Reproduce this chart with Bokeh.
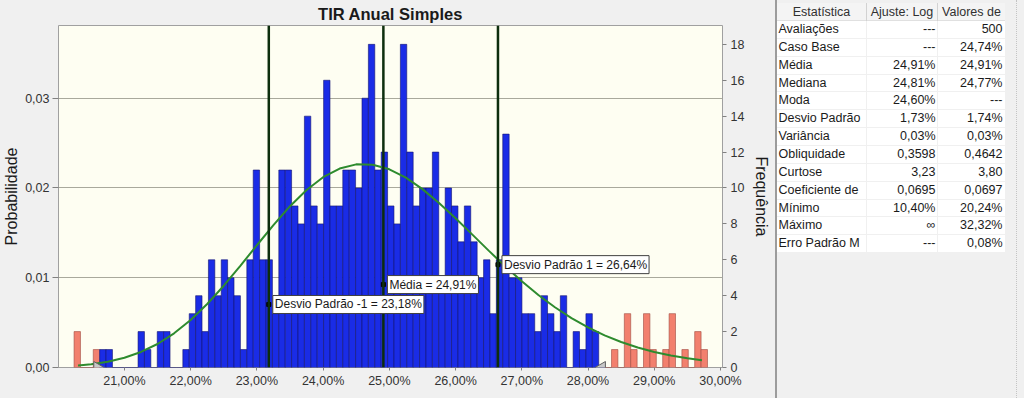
import math
from bokeh.plotting import figure
from bokeh.models import (Range1d, LinearAxis, FixedTicker, SingleIntervalTicker,
                          CustomJSTickFormatter, Span, Label, ColumnDataSource, Div)
from bokeh.layouts import row
from bokeh.embed import file_html
from bokeh.resources import INLINE

# ---------------- data ----------------
title_text = "TIR Anual Simples"
bin_start = 20.24          # % (first bin left edge = minimum)
bin_width = 0.0966         # %
counts = [2, 0, 0, 1, 1, 1, 0, 0, 0, 0,
          2, 1, 0, 2, 2, 0, 0, 1, 3, 4,
          2, 6, 4, 6, 5, 4, 1, 6, 11, 6,
          6, 3, 11, 11, 9, 8, 14, 9, 8, 16,
          9, 9, 11, 11, 10, 15, 18, 11, 12, 9,
          8, 18, 12, 9, 10, 10, 12, 5, 10, 9,
          7, 9, 7, 5, 6, 3, 6, 13, 5, 5,
          3, 3, 2, 4, 3, 2, 4, 0, 2, 1,
          3, 2, 0, 0, 1, 0, 3, 1, 0, 3,
          1, 0, 1, 3, 0, 1, 0, 2, 1]
left_delimiter = 20.59
right_delimiter = 28.21
n_evaluations = 500
stat_lines = [23.18, 24.91, 26.64]
stat_labels = ["Desvio Padrão -1 = 23,18%", "Média = 24,91%", "Desvio Padrão 1 = 26,64%"]

fit_x = [20.3, 20.5, 20.75, 21.0, 21.25, 21.5, 21.75, 22.0, 22.25, 22.5, 22.75,
         23.0, 23.25, 23.5, 23.75, 24.0, 24.25, 24.5, 24.75, 25.0, 25.25, 25.5,
         25.75, 26.0, 26.25, 26.5, 26.75, 27.0, 27.25, 27.5, 27.75, 28.0, 28.25,
         28.5, 28.75, 29.0, 29.25, 29.5, 29.72]
fit_prob = [0.00022, 0.00037, 0.00065, 0.00109, 0.00173, 0.00262, 0.00381, 0.00529,
            0.00707, 0.00911, 0.01132, 0.01362, 0.01587, 0.01797, 0.01978, 0.02120,
            0.02216, 0.02263, 0.02259, 0.02208, 0.02115, 0.01987, 0.01833, 0.01662,
            0.01483, 0.01302, 0.01126, 0.00960, 0.00808, 0.00671, 0.00550, 0.00446,
            0.00358, 0.00284, 0.00223, 0.00173, 0.00133, 0.00102, 0.00080]

x_ticks = [21, 22, 23, 24, 25, 26, 27, 28, 29, 30]
prob_ticks = [0.0, 0.01, 0.02, 0.03]
freq_tick_interval = 2

table_headers = ["Estatística", "Ajuste: Log", "Valores de"]
stat_names = ["Avaliações", "Caso Base", "Média", "Mediana", "Moda", "Desvio Padrão",
              "Variância", "Obliquidade", "Curtose", "Coeficiente de", "Mínimo",
              "Máximo", "Erro Padrão M"]
fit_values = ["---", "---", "24,91%", "24,81%", "24,60%", "1,73%", "0,03%", "0,3598",
              "3,23", "0,0695", "10,40%", "∞", "---"]
sim_values = ["500", "24,74%", "24,91%", "24,77%", "---", "1,74%", "0,03%", "0,4642",
              "3,80", "0,0697", "20,24%", "32,32%", "0,08%"]

# ---------------- styles / layout ----------------
FONT = "Liberation Sans"
BG = "#f0f0f0"
PLOT_BG = "#fefef2"
BLUE = "#1a2ce6"
RED = "#f2806e"
prob_top = 0.0381
label_y = [3.51, 4.62, 5.73]  # label anchor heights (frequency units)
W_PLOT, H = 773, 398
W_TABLE = 251

# ---------------- histogram figure ----------------
p = figure(width=W_PLOT, height=H, x_range=Range1d(20.005, 30.03),
           y_range=Range1d(0, prob_top), output_backend="svg", toolbar_location=None,
           min_border_left=56, min_border_right=47, min_border_bottom=31, min_border_top=24)
p.extra_y_ranges = {"freq": Range1d(0, prob_top * n_evaluations)}
p.background_fill_color = PLOT_BG
p.border_fill_color = BG
p.outline_line_color = "#a0a0a0"

p.title.text = title_text
p.title.align = "center"
p.title.text_font = FONT
p.title.text_font_size = "16.5px"
p.title.text_font_style = "bold"
p.title.text_color = "#1a1a1a"
p.title.standoff = 5
p.title.offset = 0

lefts = [bin_start + i * bin_width for i in range(len(counts))]
rights = [l + bin_width for l in lefts]
centers = [l + bin_width / 2 for l in lefts]
inside = [left_delimiter <= c <= right_delimiter for c in centers]
src = ColumnDataSource(dict(
    left=lefts, right=rights, top=counts,
    fill=[BLUE if ok else RED for ok in inside],
    line=["#14146e" if ok else "#a04a40" for ok in inside]))
p.quad(left="left", right="right", top="top", bottom=0, source=src,
       fill_color="fill", line_color="line", line_width=0.6, y_range_name="freq")

p.line(fit_x, fit_prob, line_color="#2e8b2e", line_width=2)

for loc in stat_lines:
    p.add_layout(Span(location=loc, dimension="height", line_color="#0d2e0d", line_width=2.5))

p.scatter(stat_lines, label_y, marker="square", size=4, color="black", y_range_name="freq")
for loc, ly, txt in zip(stat_lines, label_y, stat_labels):
    p.add_layout(Label(x=loc, y=ly, y_range_name="freq", text=txt, x_offset=4,
                       text_baseline="middle", text_font=FONT, text_font_size="12px",
                       text_color="#1a1a1a", background_fill_color="white",
                       border_line_color="#404040", border_line_width=1, padding=2))

p.scatter([left_delimiter, right_delimiter], [0, 0], marker="triangle",
          angle=[-math.pi / 2, math.pi / 2], size=12, fill_color="#c8c8c8",
          line_color="#606060", y_range_name="freq")

# axes
p.xgrid.visible = False
p.ygrid.grid_line_color = "#a9a99c"
p.ygrid.ticker = FixedTicker(ticks=prob_ticks)

xa = p.xaxis[0]
xa.ticker = FixedTicker(ticks=x_ticks)
xa.formatter = CustomJSTickFormatter(code="return tick.toFixed(2).replace('.', ',') + '%';")
ya = p.yaxis[0]
ya.ticker = FixedTicker(ticks=prob_ticks)
ya.formatter = CustomJSTickFormatter(code="return tick.toFixed(2).replace('.', ',');")
ya.axis_label = "Probabilidade"
ya.major_tick_out = 6
ya.major_label_standoff = 3
ya.axis_label_standoff = 2

ra = LinearAxis(y_range_name="freq", axis_label="Frequência",
                ticker=SingleIntervalTicker(interval=freq_tick_interval, num_minor_ticks=0))
ra.major_tick_out = 4
ra.major_label_standoff = 4
ra.axis_label_standoff = 6
p.add_layout(ra, "right")

xa.major_tick_out = 3
xa.major_label_standoff = 3
for ax in (xa, ya, ra):
    ax.axis_line_color = None
    ax.major_tick_in = 0
    ax.minor_tick_line_color = None
    ax.major_tick_line_color = "#808080"
    ax.major_label_text_font = FONT
    ax.major_label_text_font_size = "12.5px"
    ax.major_label_text_color = "#333333"
    ax.axis_label_text_font = FONT
    ax.axis_label_text_font_size = "16px"
    ax.axis_label_text_font_style = "normal"
    ax.axis_label_text_color = "#1a1a1a"

# ---------------- statistics table (HTML) ----------------
col_left = [4, 93, 164]
col_w = [89, 71, 68]
head_top, head_h = 3, 18
row_h = 17.86
body_top = head_top + head_h
tbl_w = sum(col_w)
n_rows = len(stat_names)

parts = []
parts.append(f'<div style="position:relative;width:{W_TABLE}px;height:{H}px;background:{BG};'
             f'font-family:\'{FONT}\',Arial,sans-serif;font-size:12.5px;color:#1a1a1a;overflow:hidden;">')
parts.append(f'<div style="position:absolute;left:2px;top:0;width:2px;height:{H}px;background:#9c9c9c;"></div>')
parts.append(f'<div style="position:absolute;left:{W_TABLE - 8}px;top:0;width:0;height:{H}px;'
             f'border-left:1px dotted #c4c4c4;"></div>')
# header
parts.append(f'<div style="position:absolute;left:{col_left[0]}px;top:{head_top}px;width:{tbl_w}px;'
             f'height:{head_h}px;background:#f4f4f4;border-bottom:1px solid #e0e0e0;box-sizing:border-box;"></div>')
for i, h in enumerate(table_headers):
    border = "border-left:1px solid #d2d2d2;" if i > 0 else ""
    parts.append(f'<div style="position:absolute;left:{col_left[i]}px;top:{head_top}px;width:{col_w[i]}px;'
                 f'height:{head_h}px;line-height:{head_h}px;text-align:center;white-space:nowrap;'
                 f'overflow:hidden;color:#303030;box-sizing:border-box;{border}">{h}</div>')
# body
parts.append(f'<div style="position:absolute;left:{col_left[0]}px;top:{body_top}px;width:{tbl_w}px;'
             f'height:{n_rows * row_h:.2f}px;background:white;"></div>')
for k in range(n_rows):
    top = body_top + k * row_h
    parts.append(f'<div style="position:absolute;left:{col_left[0]}px;top:{top:.2f}px;width:{tbl_w}px;'
                 f'height:{row_h}px;border-bottom:1px solid #f0f0f0;box-sizing:border-box;"></div>')
    cells = [(stat_names[k], "left", "padding-left:1.5px;"),
             (fit_values[k], "right", "padding-right:1.5px;"),
             (sim_values[k], "right", "padding-right:2.5px;")]
    for i, (txt, align, pad) in enumerate(cells):
        border = "border-left:1px solid #f0f0f0;" if i > 0 else ""
        parts.append(f'<div style="position:absolute;left:{col_left[i]}px;top:{top:.2f}px;width:{col_w[i]}px;'
                     f'height:{row_h}px;line-height:{row_h}px;text-align:{align};white-space:nowrap;'
                     f'overflow:hidden;box-sizing:border-box;{pad}{border}">{txt}</div>')
parts.append('</div>')
table_div = Div(text="".join(parts), width=W_TABLE, height=H, margin=(0, 0, 0, 0))

layout = row(p, table_div)

tmpl = "{% block postamble %}<style>html, body { background: #f0f0f0; }</style>{% endblock %}"
try:
    html = file_html(layout, INLINE, template=tmpl)
except Exception:
    html = file_html(layout, INLINE)
open("out.html", "w").write(html)
